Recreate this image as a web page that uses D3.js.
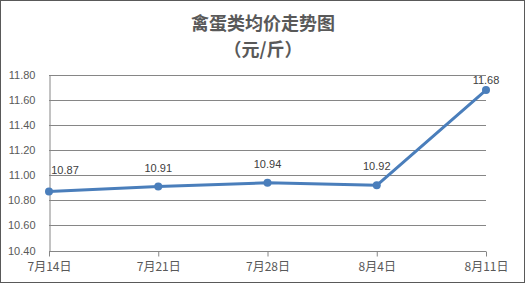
<!DOCTYPE html>
<html><head><meta charset="utf-8">
<script src="https://cdn.jsdelivr.net/npm/d3@7"></script>
<style>body{margin:0;background:#fff}svg{display:block}</style>
</head><body>
<svg id="c" width="525" height="283"></svg>
<script>
const categories = ["7月14日","7月21日","7月28日","8月4日","8月11日"];
const values = [10.87, 10.91, 10.94, 10.92, 11.68];
const yTicks = [10.40, 10.60, 10.80, 11.00, 11.20, 11.40, 11.60, 11.80];
const titleLines = ["禽蛋类均价走势图","（元/斤）"];

const W = 525, H = 283;
const m = {left: 49, right: 39, top: 75, bottom: 32.5};
const svg = d3.select("#c");
svg.append("rect").attr("x",0.5).attr("y",0.5).attr("width",W-1).attr("height",H-1)
  .attr("fill","#fff").attr("stroke","#595959").attr("stroke-width",1);

const x = d3.scalePoint().domain(categories).range([m.left, W - m.right]);
const y = d3.scaleLinear().domain([10.4, 11.8]).range([H - m.bottom, m.top]);

// title
const t = svg.append("text").attr("text-anchor","middle").attr("fill","#595959")
  .attr("font-family","'Noto Sans CJK SC', sans-serif").attr("font-weight","bold").attr("font-size",18);
t.append("tspan").attr("x",263).attr("y",30).text(titleLines[0]);
t.append("tspan").attr("x",263).attr("y",56).text(titleLines[1]);

// gridlines
svg.append("g").selectAll("line").data(yTicks.slice(1)).join("line")
  .attr("x1", m.left).attr("x2", W - m.right)
  .attr("y1", d => Math.round(y(d)) + 0.5).attr("y2", d => Math.round(y(d)) + 0.5)
  .attr("stroke","#868686").attr("stroke-width",1);

// y axis
const ya = svg.append("g").attr("transform",`translate(${m.left+0.5},0)`)
  .call(d3.axisLeft(y).tickValues(yTicks).tickFormat(d3.format(".2f")).tickSize(0).tickPadding(14));
ya.select(".domain").attr("stroke","#868686");
ya.selectAll("text").attr("fill","#595959").attr("font-size",11)
  .attr("font-family","'Liberation Sans', Arial, sans-serif");

// x axis
const xa = svg.append("g").attr("transform",`translate(0,${Math.round(H - m.bottom)+0.5})`)
  .call(d3.axisBottom(x).tickSize(5).tickPadding(6));
xa.select(".domain").attr("stroke","#868686").attr("d",`M${m.left},0H${W-m.right}`);
xa.selectAll("line").attr("stroke","#868686");
xa.selectAll("text").attr("fill","#595959").attr("font-size",12)
  .attr("font-family","'Noto Sans CJK SC', sans-serif");

// line
const data = categories.map((c,i)=>({c, v: values[i]}));
svg.append("path").datum(data)
  .attr("fill","none").attr("stroke","#4A7EBB").attr("stroke-width",3)
  .attr("stroke-linejoin","round")
  .attr("d", d3.line().x(d=>x(d.c)).y(d=>y(d.v)));
svg.append("g").selectAll("circle").data(data).join("circle")
  .attr("cx", d=>x(d.c)).attr("cy", d=>y(d.v)).attr("r",4).attr("fill","#4A7EBB");

// labels (kept inside plot area)
svg.append("g").selectAll("text").data(data).join("text")
  .attr("x", d=>Math.max(x(d.c), m.left + 16))
  .attr("y", (d,i)=>Math.max(y(d.v) - (i === 0 ? 18 : 15), m.top + 9))
  .attr("text-anchor","middle").attr("fill","#404040").attr("font-size",11)
  .attr("font-family","'Liberation Sans', Arial, sans-serif")
  .text(d=>d3.format(".2f")(d.v));
</script>
</body></html>
